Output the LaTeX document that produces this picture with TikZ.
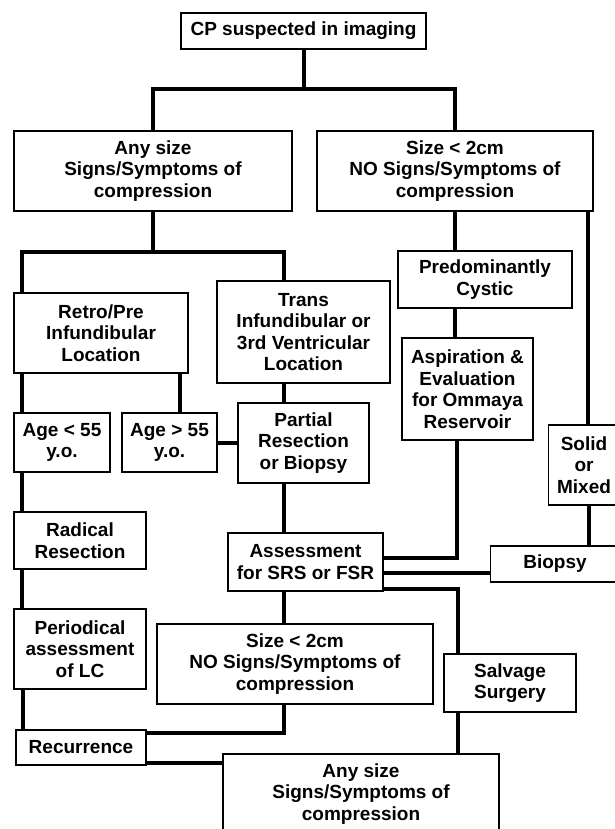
\documentclass[tikz,border=0pt]{standalone}
\usepackage{fontspec}
\setmainfont{Liberation Sans}
\begin{document}
\begin{tikzpicture}[x=1pt,y=-1pt,
  box/.style={draw=black, line width=1.4pt, fill=white, align=center, inner sep=0pt,
    font=\bfseries\fontsize{19}{21.5}\selectfont},
  txt/.style={align=center, inner sep=0pt, font=\bfseries\fontsize{19}{21.5}\selectfont},
  conn/.style={draw=black, line width=4pt}]
\useasboundingbox[fill=white] (0,0) rectangle (614,829);
% boxes
\node[box, minimum width=245, minimum height=36] (cp) at (303.5,31) {CP suspected in imaging};
\node[box, minimum width=278, minimum height=80] (any1) at (153,171) {Any size\\Signs/Symptoms of\\compression};
\node[box, minimum width=276, minimum height=80] (size1) at (455,171) {Size < 2cm\\NO Signs/Symptoms of\\compression};
\node[box, minimum width=174, minimum height=80] (retro) at (101,333) {Retro/Pre\\Infundibular\\Location};
\node[box, minimum width=173, minimum height=102] (trans) at (303.5,332) {Trans\\Infundibular or\\3rd Ventricular\\Location};
\node[box, minimum width=174, minimum height=57] (cystic) at (485,279.5) {Predominantly\\Cystic};
\node[box, minimum width=131, minimum height=102] (aspir) at (467.5,389) {Aspiration \&\\Evaluation\\for Ommaya\\Reservoir};
\node[box, minimum width=100, minimum height=80, anchor=west] (solid) at (548,465) {};
\node[txt] (solidt) at (584,465) {Solid\\or\\Mixed};
\node[box, minimum width=160, minimum height=36, anchor=west] (biopsy) at (490,564) {};
\node[txt] (biopsyt) at (555,564) {Biopsy};
\node[box, minimum width=96, minimum height=59] (agel) at (62,442.5) {Age < 55\\y.o.};
\node[box, minimum width=95, minimum height=59] (ageg) at (169.5,442.5) {Age > 55\\y.o.};
\node[box, minimum width=131, minimum height=80] (partial) at (303.5,443) {Partial\\Resection\\or Biopsy};
\node[box, minimum width=132, minimum height=57] (radical) at (80,540.5) {Radical\\Resection};
\node[box, minimum width=155, minimum height=58] (assess) at (305.5,562) {Assessment\\for SRS or FSR};
\node[box, minimum width=132, minimum height=80] (period) at (80,649) {Periodical\\assessment\\of LC};
\node[box, minimum width=276, minimum height=80] (size2) at (295,664) {Size < 2cm\\NO Signs/Symptoms of\\compression};
\node[box, minimum width=132, minimum height=58] (salvage) at (510,683) {Salvage\\Surgery};
\node[box, minimum width=130, minimum height=35] (recur) at (81,747.5) {Recurrence};
\node[box, minimum width=276, minimum height=80] (any2) at (361,794) {Any size\\Signs/Symptoms of\\compression};
% junctions
\coordinate (j1) at (303.5,89);
\coordinate (j2) at (153,252);
% connectors
\draw[conn] (cp.south) -- (j1);
\draw[conn] (any1.north) |- (j1) -| (size1.north);
\draw[conn] (any1.south) -- (j2);
\draw[conn] (retro.north -| 22,0) |- (j2) -| (trans.north -| 284,0);
\draw[conn] (retro.south -| 22,0) -- (agel.north -| 22,0);
\draw[conn] (retro.south -| 180,0) -- (ageg.north -| 180,0);
\draw[conn] (trans.south -| 284,0) -- (partial.north -| 284,0);
\draw[conn] (ageg.east) -- (ageg.east -| partial.west);
\draw[conn] (agel.south -| 22,0) -- (radical.north -| 22,0);
\draw[conn] (radical.south -| 22,0) -- (period.north -| 22,0);
\draw[conn] (period.south -| 23,0) -- (recur.north -| 23,0);
\draw[conn] (partial.south -| 284,0) -- (assess.north -| 284,0);
\draw[conn] (assess.south -| 284,0) -- (size2.north -| 284,0);
\draw[conn] (size2.south -| 284,0) |- (recur.east |- 0,733);
\draw[conn] (recur.east |- 0,763) -- (any2.west |- 0,763);
\draw[conn] (size1.south -| 455,0) -- (cystic.north -| 455,0);
\draw[conn] (cystic.south -| 455,0) -- (aspir.north -| 455,0);
\draw[conn] (size1.south -| 588,0) -- (solid.north -| 588,0);
\draw[conn] (solid.south -| 589,0) -- (biopsy.north -| 589,0);
\draw[conn] (aspir.south -| 457,0) |- (assess.east |- 0,558);
\draw[conn] (biopsy.west |- 0,573) -- (assess.east |- 0,573);
\draw[conn] (assess.east |- 0,589) -| (salvage.north -| 458,0);
\draw[conn] (salvage.south -| 458,0) -- (any2.north -| 458,0);
\end{tikzpicture}
\end{document}
